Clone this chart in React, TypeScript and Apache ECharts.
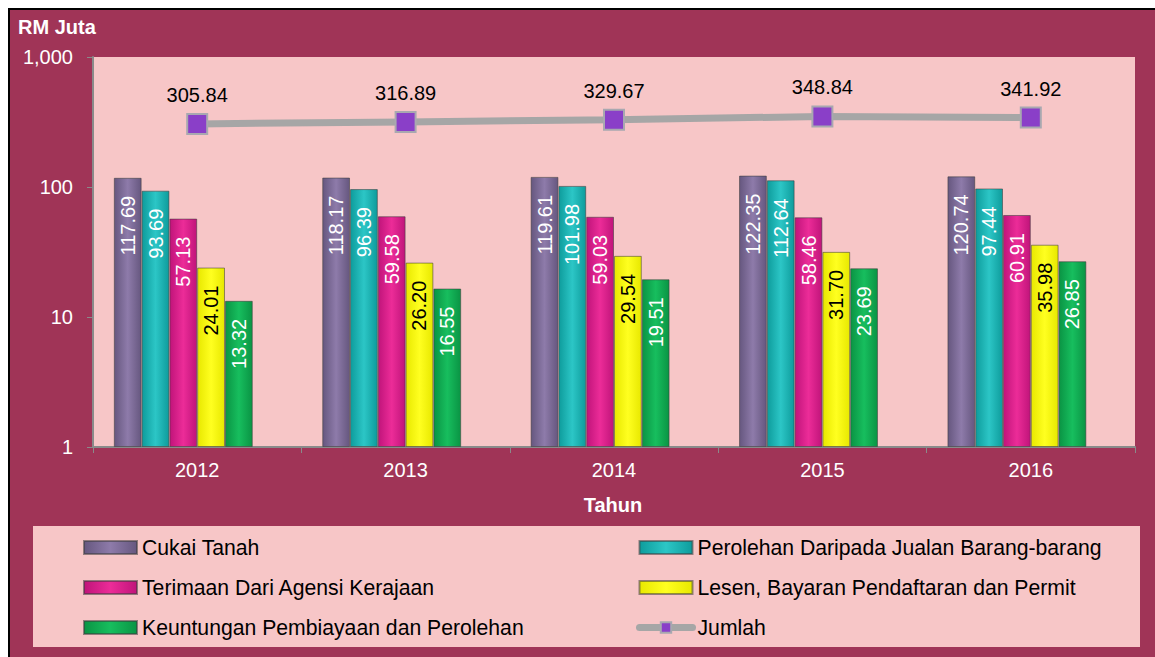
import React, { useEffect, useRef } from "react";
import * as echarts from "echarts";

const years = ["2012", "2013", "2014", "2015", "2016"];
const cukaiTanah = [117.69, 118.17, 119.61, 122.35, 120.74];
const perolehanJualan = [93.69, 96.39, 101.98, 112.64, 97.44];
const terimaanAgensi = [57.13, 59.58, 59.03, 58.46, 60.91];
const lesenBayaran = [24.01, 26.2, 29.54, 31.7, 35.98];
const keuntungan = [13.32, 16.55, 19.51, 23.69, 26.85];
const jumlah = [305.84, 316.89, 329.67, 348.84, 341.92];

const names = [
  "Cukai Tanah",
  "Perolehan Daripada Jualan Barang-barang",
  "Terimaan Dari Agensi Kerajaan",
  "Lesen, Bayaran Pendaftaran dan Permit",
  "Keuntungan Pembiayaan dan Perolehan",
  "Jumlah",
];

const FONT = "'Liberation Sans', Arial, sans-serif";

function grad(edge: string, mid: string) {
  return new echarts.graphic.LinearGradient(0, 0, 1, 0, [
    { offset: 0, color: edge },
    { offset: 0.5, color: mid },
    { offset: 1, color: edge },
  ]);
}

function barSeries(name: string, data: number[], edge: string, mid: string, labelColor: string) {
  return {
    type: "bar",
    name,
    data,
    barGap: "0%",
    barCategoryGap: "20%",
    itemStyle: { color: grad(edge, mid), borderColor: "rgba(60,60,60,0.55)", borderWidth: 1 },
    label: {
      show: true,
      position: "insideTop",
      rotate: 90,
      align: "right",
      verticalAlign: "middle",
      distance: 18,
      color: labelColor,
      fontSize: 20,
      fontFamily: FONT,
      formatter: (p: any) => Number(p.value).toFixed(2),
    },
  };
}

const legendText = { fontSize: 21.2, lineHeight: 21, color: "#000", fontFamily: FONT };

export default function App() {
  const ref = useRef<HTMLDivElement>(null);
  useEffect(() => {
    if (!ref.current) return;
    const chart = echarts.init(ref.current, undefined, { renderer: "svg" });
    chart.setOption({
      animation: false,
      backgroundColor: "transparent",
      textStyle: { fontFamily: FONT },
      grid: {
        left: 93,
        right: 20,
        top: 57,
        bottom: 210,
        show: true,
        backgroundColor: "#F7C6C7",
        borderWidth: 0,
      },
      graphic: [
        {
          type: "rect",
          z: 0,
          silent: true,
          shape: { x: 33, y: 526, width: 1107, height: 121 },
          style: { fill: "#F7C6C7" },
        },
        {
          type: "text",
          left: 18,
          top: 17,
          style: { text: "RM Juta", fill: "#fff", font: `bold 20px ${FONT}` },
        },
        {
          type: "text",
          x: 613,
          y: 505,
          style: {
            text: "Tahun",
            fill: "#fff",
            font: `bold 20px ${FONT}`,
            textAlign: "center",
            textVerticalAlign: "middle",
          },
        },
      ],
      legend: [
        {
          orient: "vertical",
          left: 78,
          top: 532,
          itemWidth: 53,
          itemHeight: 13,
          itemGap: 19,
          icon: "rect",
          data: [names[0], names[2], names[4]],
          textStyle: legendText,
        },
        {
          orient: "vertical",
          left: 631,
          top: 532,
          itemWidth: 53,
          itemHeight: 13,
          itemGap: 19,
          data: [
            { name: names[1], icon: "rect" },
            { name: names[3], icon: "rect" },
            { name: names[5], lineStyle: { width: 7, cap: "round" } },
          ],
          textStyle: legendText,
        },
      ],
      xAxis: {
        type: "category",
        data: years,
        axisLine: { lineStyle: { color: "#8A8A8A", width: 2 } },
        axisTick: { show: true, length: 6, lineStyle: { color: "#8A8A8A" } },
        axisLabel: { color: "#fff", fontSize: 20, margin: 13, fontFamily: FONT },
      },
      yAxis: {
        type: "log",
        logBase: 10,
        min: 1,
        max: 1000,
        axisLine: { show: true, lineStyle: { color: "#8A8A8A", width: 2 } },
        axisTick: { show: true, length: 6, lineStyle: { color: "#8A8A8A" } },
        splitLine: { show: false },
        axisLabel: {
          color: "#fff",
          fontSize: 20,
          margin: 20,
          fontFamily: FONT,
          formatter: (v: number) => Math.round(v).toLocaleString("en-US"),
        },
      },
      series: [
        barSeries(names[0], cukaiTanah, "#66577F", "#8E7BAA", "#fff"),
        barSeries(names[1], perolehanJualan, "#0E9C9C", "#2CC6C6", "#fff"),
        barSeries(names[2], terimaanAgensi, "#C0147A", "#EC2C98", "#fff"),
        barSeries(names[3], lesenBayaran, "#E8E800", "#FFFF20", "#000"),
        barSeries(names[4], keuntungan, "#0A9444", "#17BE5E", "#fff"),
        {
          type: "bar",
          name: "_pad",
          data: years.map(() => null),
          barGap: "0%",
          barCategoryGap: "20%",
          silent: true,
        },
        {
          type: "line",
          name: names[5],
          data: jumlah,
          symbol: "rect",
          symbolSize: 20,
          z: 5,
          lineStyle: { color: "#A6A6A6", width: 7 },
          itemStyle: { color: "#8A3FC8", borderColor: "#A8A8B0", borderWidth: 2 },
          label: {
            show: true,
            position: "top",
            distance: 8,
            color: "#000",
            fontSize: 20,
            fontFamily: FONT,
            formatter: (p: any) => Number(p.value).toFixed(2),
          },
        },
      ],
    });
    return () => chart.dispose();
  }, []);
  return (
    <div style={{ position: "absolute", left: 0, top: 0, width: 1155, height: 657, background: "#fff", overflow: "hidden" }}>
      <div
        style={{
          position: "absolute",
          left: 8,
          top: 8,
          width: 1160,
          height: 660,
          background: "#A03457",
          borderLeft: "2px solid #000",
          borderTop: "2px solid #000",
        }}
      />
      <div ref={ref} style={{ position: "absolute", left: 0, top: 0, width: 1155, height: 657 }} />
    </div>
  );
}
